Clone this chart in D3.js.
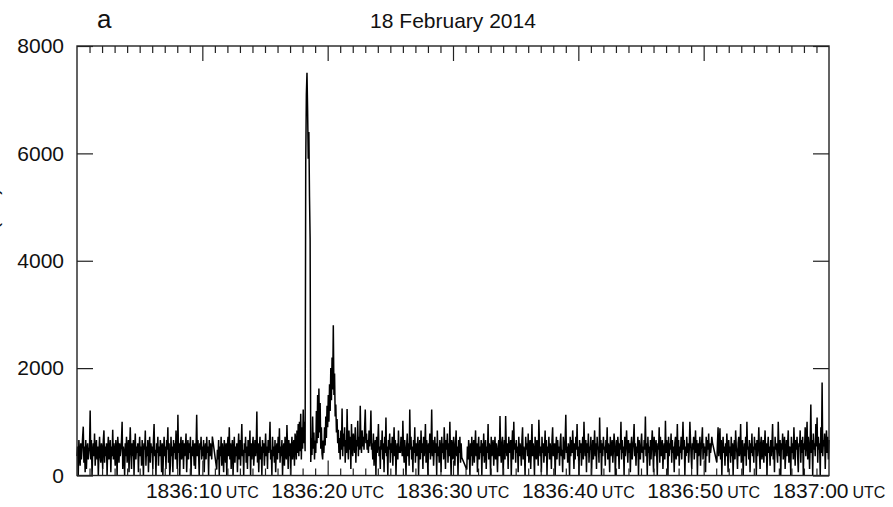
<!DOCTYPE html>
<html>
<head>
<meta charset="utf-8">
<script src="https://cdn.jsdelivr.net/npm/d3@7"></script>
<style>
  body { margin: 0; background: #fff; }
  svg { display: block; }
  text { font-family: "Liberation Sans", Arial, Helvetica, sans-serif; fill: #111; }
</style>
</head>
<body>
<svg id="chart" width="893" height="507"></svg>
<script>
// Count rate samples, one every binWidth seconds, in four telemetry segments
// (seconds after 18:36:00 UTC). The short gaps between segments are bridged by the line.
const binWidth = 0.05;
const segmentStarts = [0, 11.15, 31.1, 51.05];

const segment1 = [
  360, 540, 0, 660, 420, 180, 600, 300, 480, 720, 910, 240, 540, 60, 660, 120, 480, 600, 300, 420,
  540, 1210, 300, 660, 0, 420, 600, 360, 780, 180, 480, 660, 300, 540, 0, 420, 720, 360, 240, 600,
  480, 120, 660, 840, 240, 540, 360, 600, 0, 480, 720, 300, 420, 660, 60, 540, 360, 850, 300, 600,
  420, 180, 660, 480, 0, 720, 540, 240, 600, 360, 480, 660, 1000, 120, 540, 420, 0, 600, 360, 720,
  240, 480, 660, 60, 540, 900, 420, 120, 600, 360, 660, 0, 480, 780, 300, 540, 420, 600, 60, 480,
  720, 360, 540, 180, 660, 420, 0, 600, 480, 840, 180, 540, 360, 660, 60, 480, 720, 240, 600, 420,
  540, 120, 660, 960, 360, 480, 0, 600, 420, 720, 180, 540, 360, 660, 480, 60, 600, 0, 420, 720,
  360, 540, 120, 660, 480, 900, 240, 600, 0, 180, 720, 360, 540, 60, 660, 420, 600, 300, 840, 480,
  120, 1130, 420, 600, 0, 540, 720, 300, 480, 660, 120, 600, 360, 540, 780, 60, 480, 660, 300, 600,
  420, 720, 0, 540, 360, 660, 480, 180, 600, 120, 540, 1130, 360, 660, 420, 0, 600, 480, 720, 300,
  540, 360, 660, 60, 480, 600, 300, 720, 420, 540, 0, 660, 360, 600, 480, 300, 725
];

const segment2 = [
  110, 480, 300, 660, 0, 540, 360, 720, 180, 600, 420, 60, 660, 480, 240, 600, 0, 540, 720, 360,
  900, 300, 600, 120, 480, 660, 0, 420, 720, 240, 540, 360, 600, 60, 480, 780, 300, 660, 180, 540,
  960, 360, 480, 0, 600, 420, 720, 240, 540, 120, 660, 360, 480, 840, 0, 600, 300, 540, 720, 180,
  420, 660, 360, 540, 1190, 240, 600, 60, 480, 720, 300, 540, 0, 660, 420, 600, 180, 480, 780, 360,
  540, 120, 660, 420, 600, 1000, 300, 480, 0, 720, 360, 540, 240, 660, 60, 480, 600, 300, 720, 420,
  880, 240, 540, 360, 660, 0, 480, 600, 180, 720, 420, 300, 940, 540, 120, 660, 360, 600, 0, 480,
  720, 300, 540, 660, 180, 780, 660, 300, 840, 420, 960, 360, 1000, 450, 1150, 300, 900, 500, 1230, 600,
  1000, 450, 5800, 7100, 7500, 6800, 5900, 6400, 5200, 4400, 250, 700, 380, 1100, 500, 800, 300, 650, 420, 1200,
  600, 1500, 700, 1620, 800, 1350, 500, 900, 400, 300, 650, 420, 900, 560, 1100, 700, 1300, 900, 1500, 1000,
  1700, 1200, 2000, 1400, 2200, 1600, 2800, 1500, 1900, 1100, 1320, 800, 1050, 600, 850, 420, 700, 300, 840, 480,
  1250, 360, 780, 540, 900, 240, 660, 420, 1240, 600, 300, 840, 480, 720, 120, 960, 540, 360, 780, 600,
  420, 900, 240, 660, 540, 1020, 360, 720, 480, 1300, 600, 420, 840, 540, 720, 480, 900, 1230, 600, 780,
  480, 660, 420, 840, 540, 720, 1210, 480, 600, 300, 780, 180, 540, 660, 0, 720, 420, 600, 960, 360,
  540, 120, 660, 480, 840, 300, 600, 60, 720, 420, 1080, 360, 540, 0, 660, 480, 780, 240, 600, 420,
  720, 180, 540, 900, 360, 660, 0, 480, 600, 300, 840, 420, 540, 420, 720, 600, 360, 1020, 480, 240,
  660, 420, 0, 540, 780, 360, 600, 180, 1230, 480, 720, 300, 540, 60, 660, 420, 900, 240, 600, 360,
  540, 720, 0, 480, 660, 300, 840, 420, 600, 120, 720, 360, 540, 960, 240, 660, 480, 0, 600, 420,
  780, 300, 540, 1230, 360, 660, 180, 480, 720, 420, 600, 0, 840, 360, 540, 240, 660, 480, 60, 720,
  420, 600, 300, 900, 540, 120, 660, 480, 780, 240, 600, 360, 1000, 420, 0, 660, 540, 300, 720, 480,
  180, 600, 840, 360, 540, 0, 660, 420, 720, 240, 600, 335
];

const segment3 = [
  110, 540, 300, 660, 420, 0, 600, 360, 720, 180, 480, 660, 240, 540, 840, 360, 600, 60, 480, 720,
  300, 540, 420, 660, 0, 600, 360, 780, 240, 480, 660, 120, 540, 420, 960, 300, 600, 480, 0, 720,
  360, 540, 660, 180, 480, 720, 300, 600, 420, 60, 540, 660, 360, 1110, 480, 240, 600, 720, 0, 420,
  660, 300, 1110, 540, 360, 600, 120, 720, 480, 420, 660, 0, 540, 840, 300, 1000, 480, 600, 240, 660,
  420, 540, 60, 720, 360, 600, 480, 180, 660, 900, 300, 540, 420, 0, 720, 480, 600, 360, 780, 240,
  540, 660, 120, 480, 960, 360, 600, 420, 0, 720, 540, 300, 660, 480, 180, 1040, 600, 360, 540, 60,
  720, 420, 600, 240, 480, 840, 360, 660, 0, 540, 420, 720, 300, 600, 480, 120, 660, 900, 360, 540,
  600, 0, 480, 720, 300, 660, 420, 540, 180, 600, 780, 360, 480, 60, 720, 540, 300, 660, 1130, 420,
  540, 240, 600, 480, 0, 720, 360, 660, 420, 840, 540, 120, 600, 300, 720, 480, 960, 360, 540, 0,
  660, 420, 600, 180, 480, 720, 300, 1000, 540, 360, 660, 60, 600, 420, 780, 240, 540, 480, 720, 0,
  420, 660, 300, 540, 840, 360, 600, 120, 720, 480, 540, 240, 1080, 420, 660, 0, 600, 360, 720, 480,
  540, 180, 660, 420, 900, 300, 600, 480, 60, 720, 360, 540, 660, 240, 480, 780, 600, 0, 420, 660,
  360, 720, 540, 120, 600, 480, 1000, 300, 660, 420, 540, 0, 720, 360, 600, 840, 480, 240, 660, 420,
  600, 60, 540, 720, 300, 480, 660, 960, 360, 600, 180, 540, 420, 720, 0, 660, 480, 300, 600, 780,
  420, 540, 240, 660, 480, 1100, 360, 600, 0, 720, 420, 540, 180, 660, 300, 600, 840, 480, 60, 720,
  360, 540, 660, 420, 0, 600, 480, 900, 240, 720, 360, 540, 660, 120, 480, 600, 300, 1020, 420, 660,
  540, 0, 720, 360, 600, 480, 780, 240, 660, 420, 540, 60, 600, 720, 300, 480, 960, 360, 660, 180,
  540, 420, 720, 300, 600, 1000, 480, 660, 0, 540, 360, 720, 420, 600, 240, 480, 1000, 660, 360, 120,
  600, 480, 720, 300, 540, 840, 420, 660, 0, 600, 360, 540, 720, 180, 480, 660, 900, 300, 600, 420,
  540, 60, 720, 360, 660, 480, 780, 240, 600, 420, 540, 720, 614
];

const segment4 = [
  242, 600, 900, 360, 540, 880, 300, 660, 0, 480, 720, 420, 540, 180, 600, 360, 780, 480, 60, 660,
  420, 540, 240, 720, 360, 600, 0, 480, 660, 300, 840, 540, 420, 120, 600, 720, 360, 480, 960, 240,
  540, 660, 0, 420, 600, 360, 720, 180, 1000, 480, 540, 300, 660, 60, 600, 420, 780, 360, 540, 240,
  720, 480, 600, 0, 660, 360, 540, 900, 420, 120, 600, 720, 300, 480, 660, 240, 540, 840, 360, 600,
  0, 480, 720, 420, 540, 180, 660, 360, 600, 960, 300, 540, 60, 720, 480, 600, 420, 240, 1000, 540,
  360, 660, 0, 600, 480, 780, 300, 540, 720, 120, 420, 660, 360, 600, 840, 240, 540, 480, 0, 720,
  420, 600, 300, 900, 540, 180, 660, 480, 720, 360, 60, 600, 540, 840, 240, 660, 420, 720, 0, 600,
  480, 900, 360, 660, 1000, 300, 720, 540, 120, 600, 1320, 420, 660, 0, 780, 480, 600, 360, 960, 540,
  1080, 240, 720, 480, 600, 0, 900, 420, 1730, 360, 660, 540, 780, 120, 600, 840, 420, 720, 300, 660
];

const yTicks = [0, 2000, 4000, 6000, 8000];
const xMajorTicks = [10, 20, 30, 40, 50];
const xMinorTicks = d3.range(1, 60).filter(s => s % 10 !== 0);
const xLabelTicks = [10, 20, 30, 40, 50, 60];
const xLabels = ["1836:10", "1836:20", "1836:30", "1836:40", "1836:50", "1837:00"];
const xLabelSuffix = "UTC";
const title = "18 February 2014";
const panelLetter = "a";
const yLabel = "Count rate (1/s)";

const segments = [segment1, segment2, segment3, segment4];
const series = segments.flatMap((vals, s) =>
  vals.map((v, k) => ({ t: segmentStarts[s] + k * binWidth, v })));

const svg = d3.select("#chart");
const x = d3.scaleLinear().domain([0, 60]).range([77, 829]);
const y = d3.scaleLinear().domain([0, 8000]).range([475.5, 46]);

// light-curve trace
svg.append("path")
  .datum(series)
  .attr("fill", "none")
  .attr("stroke", "#000")
  .attr("stroke-width", 1.5)
  .attr("stroke-linejoin", "bevel")
  .attr("d", d3.line().x(d => x(d.t)).y(d => y(d.v)));

const axisColor = "#222";
function styleAxis(g) {
  g.select(".domain").remove();
  g.selectAll(".tick line").attr("stroke", axisColor).attr("stroke-width", 1.2);
}

// top axis: minor ticks every second, major every ten seconds
svg.append("g").attr("transform", `translate(0,${y(8000)})`)
  .call(d3.axisTop(x).tickValues(xMinorTicks).tickSize(-7).tickFormat(""))
  .call(styleAxis);
svg.append("g").attr("transform", `translate(0,${y(8000)})`)
  .call(d3.axisTop(x).tickValues(xMajorTicks).tickSize(-15).tickFormat(""))
  .call(styleAxis);
// bottom axis
svg.append("g").attr("transform", `translate(0,${y(0)})`)
  .call(d3.axisBottom(x).tickValues(xMinorTicks).tickSize(-7).tickFormat(""))
  .call(styleAxis);
svg.append("g").attr("transform", `translate(0,${y(0)})`)
  .call(d3.axisBottom(x).tickValues(xMajorTicks).tickSize(-15).tickFormat(""))
  .call(styleAxis);

// left axis with labels, right axis ticks only
svg.append("g").attr("transform", `translate(${x(0)},0)`)
  .call(d3.axisLeft(y).tickValues(yTicks).tickSize(-16).tickPadding(13).tickFormat(d3.format("d")))
  .call(styleAxis)
  .call(g => g.selectAll("text").attr("font-size", 21).attr("fill", "#111")
    .attr("font-family", '"Liberation Sans", Arial, Helvetica, sans-serif'));
svg.append("g").attr("transform", `translate(${x(60)},0)`)
  .call(d3.axisRight(y).tickValues(yTicks).tickSize(-16).tickFormat(""))
  .call(styleAxis);

// plot frame
svg.append("rect")
  .attr("x", x(0)).attr("y", y(8000))
  .attr("width", x(60) - x(0)).attr("height", y(0) - y(8000))
  .attr("fill", "none").attr("stroke", axisColor).attr("stroke-width", 1.4);

// time labels
const lab = svg.append("g").selectAll("text").data(xLabelTicks).join("text")
  .attr("x", d => x(d)).attr("y", 498)
  .attr("text-anchor", "middle");
lab.append("tspan").attr("font-size", 21).text((d, i) => xLabels[i]);
lab.append("tspan").attr("font-size", 16).attr("dx", 4).text(xLabelSuffix);

// title and panel letter
svg.append("text").attr("x", 453).attr("y", 28).attr("text-anchor", "middle")
  .attr("font-size", 21).text(title);
svg.append("text").attr("x", 97).attr("y", 28).attr("font-size", 26).text(panelLetter);

// y-axis title (sits mostly beyond the left edge)
svg.append("text")
  .attr("transform", `translate(-2.5,${(y(0) + y(8000)) / 2}) rotate(-90)`)
  .attr("text-anchor", "middle").attr("font-size", 21).text(yLabel);
</script>
</body>
</html>
